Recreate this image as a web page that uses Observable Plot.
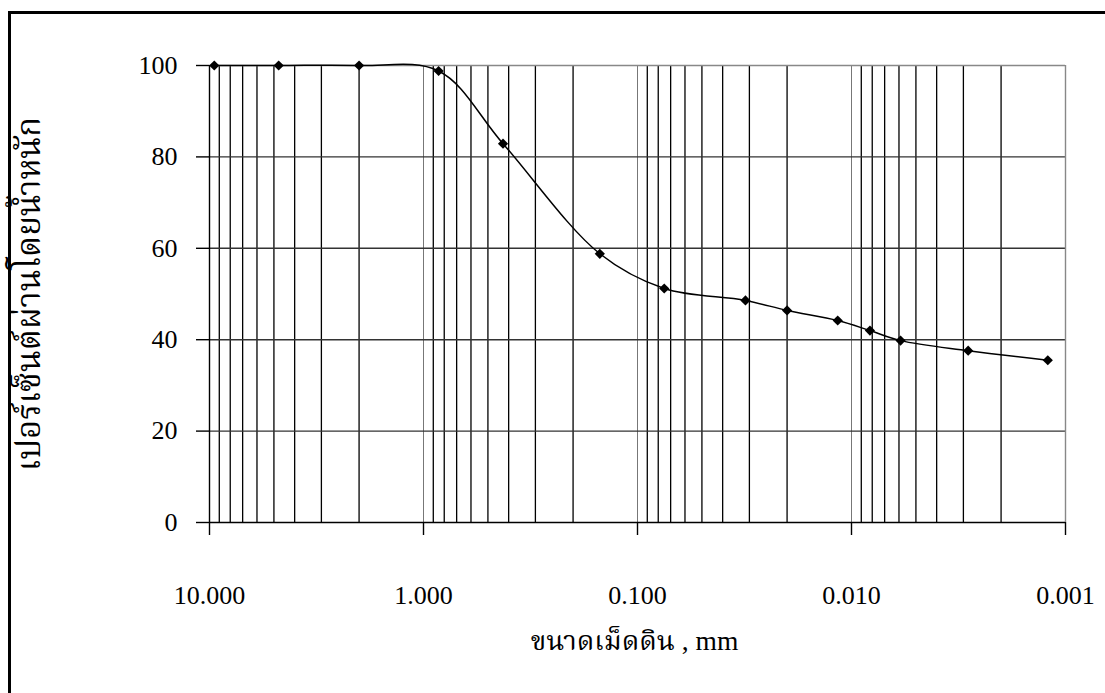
<!DOCTYPE html>
<html>
<head>
<meta charset="utf-8">
<script src="https://cdn.jsdelivr.net/npm/d3@7"></script>
<script src="https://cdn.jsdelivr.net/npm/@observablehq/plot@0.6"></script>
<style>
  html, body { margin: 0; padding: 0; background: #fff; overflow: hidden; width: 1105px; height: 693px; }
  #wrap { position: relative; width: 1105px; height: 693px; }
  #border { position: absolute; left: 8px; top: 11px; width: 1200px; height: 800px; border: 3px solid #000; box-sizing: border-box; pointer-events: none; }
  #chart { position: absolute; left: 0; top: 0; }
</style>
</head>
<body>
<div id="wrap">
  <div id="chart"></div>
  <div id="border"></div>
</div>
<script>
// Particle size (mm) and percent passing by weight
const sizes = [9.5, 4.75, 2.0, 0.85, 0.425, 0.15, 0.075, 0.0313, 0.020, 0.0116, 0.0082, 0.0059, 0.00285, 0.00121];
const passing = [100, 100, 100, 98.8, 82.9, 58.8, 51.2, 48.6, 46.4, 44.2, 42.0, 39.8, 37.6, 35.5];

const xMajorTicks = [10, 1, 0.1, 0.01, 0.001];
const xTickLabels = ["10.000", "1.000", "0.100", "0.010", "0.001"];
const yTicks = [0, 20, 40, 60, 80, 100];
const yLabel = "เปอร์เซ็นต์ผ่านโดยน้ำหนัก";
const xLabel = "ขนาดเม็ดดิน , mm";

const decades = [1, 0.1, 0.01, 0.001];
const multipliers = [1, 2, 3, 4, 5, 6, 7, 8, 9];
const minorGrid = [];
for (const d of decades) for (const m of multipliers) { const v = +(d * m).toPrecision(3); if (v <= 10) minorGrid.push(v); }
minorGrid.push(10);

const data = sizes.map((s, i) => ({size: s, pass: passing[i]}));
const font = "'Liberation Serif', 'Times New Roman', 'Noto Serif Thai', 'Noto Sans Thai', serif";

const chart = Plot.plot({
  width: 1105,
  height: 693,
  marginLeft: 209,
  marginRight: 40,
  marginTop: 65,
  marginBottom: 171,
  style: {fontFamily: font, fontSize: "26px", color: "#000", background: "transparent"},
  x: {type: "log", domain: [10, 0.001]},
  y: {domain: [0, 100]},
  marks: [
    // vertical grid
    Plot.ruleX(minorGrid.filter(v => !xMajorTicks.includes(v)), {y1: 0, y2: 100, stroke: "#000", strokeWidth: 1.3}),
    Plot.ruleX(xMajorTicks, {y1: 0, y2: 100, stroke: "#777", strokeWidth: 1}),
    // horizontal grid
    Plot.ruleY(yTicks.filter(v => v > 0 && v < 100), {stroke: "#333", strokeWidth: 1.4}),
    Plot.ruleY([100], {stroke: "#888", strokeWidth: 1.4}),
    Plot.ruleX([0.001], {stroke: "#888", strokeWidth: 1.4}),
    // axes lines
    Plot.ruleY([0], {stroke: "#000", strokeWidth: 1.6}),
    Plot.ruleX([10], {stroke: "#000", strokeWidth: 1.4}),
    Plot.axisX(xMajorTicks, {
      tickSize: 13, tickPadding: 50, stroke: "#000", strokeWidth: 1.4,
      tickFormat: (d) => xTickLabels[xMajorTicks.indexOf(d)],
      fontSize: 26, label: null
    }),
    Plot.axisY(yTicks, {
      tickSize: 13, tickPadding: 19, stroke: "#000", strokeWidth: 1.4,
      fontSize: 26, label: null
    }),
    // curve
    Plot.line(data, {x: "size", y: "pass", curve: "catmull-rom", stroke: "#000", strokeWidth: 1.5}),
    Plot.dot(data, {x: "size", y: "pass", symbol: "diamond2", r: 4.6, fill: "#000", stroke: "none"}),
    // titles
    Plot.text([yLabel], {frameAnchor: "left", textAnchor: "middle", dx: -180, rotate: -90, fontSize: 33, fill: "#000"}),
    Plot.text([xLabel], {frameAnchor: "bottom", textAnchor: "middle", dy: 127, dx: -3, fontSize: 27.5, fill: "#000"})
  ]
});
document.getElementById("chart").appendChild(chart);
</script>
</body>
</html>
